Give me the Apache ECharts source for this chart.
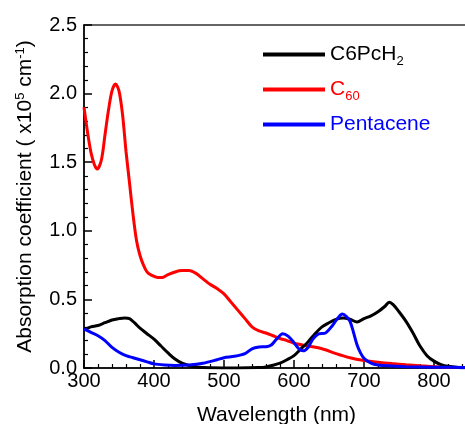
<!DOCTYPE html>
<html>
<head>
<meta charset="utf-8">
<script src="https://cdn.jsdelivr.net/npm/echarts@6/dist/echarts.min.js"></script>
<style>
  html, body { margin: 0; padding: 0; background: #fff; }
  #chart { width: 465px; height: 424px; }
</style>
</head>
<body>
<div id="chart"></div>
<script>
// wavelength (nm) / absorption coefficient (x10^5 cm^-1)
const c6pcX = [300, 305, 310, 320, 330, 340, 350, 358, 365, 372, 380, 390, 400, 410, 420, 430, 440, 450, 460, 480, 520, 550, 560, 570, 580, 590, 600, 610, 620, 630, 640, 650, 660, 670, 680, 690, 700, 710, 720, 730, 736, 742, 750, 760, 770, 780, 790, 800, 810, 820, 835, 850]
const c6pcY = [0.28, 0.29, 0.30, 0.31, 0.33, 0.35, 0.36, 0.365, 0.36, 0.33, 0.29, 0.25, 0.21, 0.16, 0.11, 0.065, 0.035, 0.018, 0.008, 0.002, 0.0, 0.003, 0.008, 0.02, 0.035, 0.06, 0.09, 0.14, 0.19, 0.25, 0.30, 0.33, 0.355, 0.365, 0.355, 0.335, 0.36, 0.38, 0.41, 0.45, 0.48, 0.46, 0.41, 0.34, 0.255, 0.16, 0.09, 0.05, 0.025, 0.012, 0.004, 0.001]

const c60X = [300, 305, 310, 315, 319, 325, 330, 335, 340, 345, 350, 355, 360, 365, 370, 375, 380, 385, 390, 395, 405, 412, 420, 430, 440, 450, 460, 470, 480, 490, 500, 510, 520, 530, 540, 550, 560, 570, 580, 590, 600, 620, 640, 660, 680, 700, 720, 740, 760, 780, 800, 820, 850]
const c60Y = [1.90, 1.72, 1.57, 1.48, 1.45, 1.52, 1.70, 1.88, 2.02, 2.07, 2.02, 1.85, 1.58, 1.35, 1.12, 0.93, 0.82, 0.75, 0.70, 0.68, 0.66, 0.66, 0.68, 0.70, 0.71, 0.71, 0.69, 0.65, 0.61, 0.58, 0.54, 0.48, 0.42, 0.36, 0.30, 0.27, 0.255, 0.235, 0.215, 0.20, 0.18, 0.16, 0.14, 0.105, 0.075, 0.055, 0.042, 0.032, 0.024, 0.017, 0.01, 0.006, 0.003]

const pentX = [300, 310, 320, 330, 340, 350, 360, 370, 380, 390, 400, 415, 430, 450, 470, 490, 500, 515, 530, 540, 550, 560, 568, 575, 584, 592, 600, 607, 613, 620, 627, 635, 645, 655, 662, 669, 675, 680, 685, 690, 695, 700, 710, 720, 740, 760, 800, 850]
const pentY = [0.285, 0.26, 0.235, 0.20, 0.15, 0.115, 0.09, 0.075, 0.06, 0.045, 0.03, 0.022, 0.019, 0.022, 0.035, 0.06, 0.075, 0.085, 0.105, 0.14, 0.153, 0.155, 0.17, 0.21, 0.25, 0.23, 0.185, 0.14, 0.125, 0.15, 0.21, 0.248, 0.255, 0.31, 0.36, 0.393, 0.375, 0.34, 0.26, 0.17, 0.11, 0.07, 0.035, 0.022, 0.015, 0.01, 0.006, 0.004]

const xTicks = [300, 400, 500, 600, 700, 800]
const yTicks = [0.0, 0.5, 1.0, 1.5, 2.0, 2.5]

const font = 'Liberation Sans, Arial, sans-serif'
const pairs = (xs, ys) => xs.map((x, i) => [x, ys[i]])

const chart = echarts.init(document.getElementById('chart'))

const axisCommon = {
  axisLine: { show: true, lineStyle: { color: '#000', width: 1.5 } },
  axisTick: { show: true, inside: true, length: 8, lineStyle: { color: '#000', width: 1.5 } },
  minorTick: { show: true, splitNumber: 5, length: 4, lineStyle: { color: '#000', width: 1.2 } },
  splitLine: { show: false },
  nameLocation: 'middle'
}

const option = {
  animation: false,
  backgroundColor: '#fff',
  textStyle: { fontFamily: font },
  grid: {
    left: 84,
    top: 25,
    right: -4,
    bottom: 56,
    outerBoundsMode: 'none',
    containLabel: false,
    show: true,
    borderColor: '#333',
    borderWidth: 1.5
  },
  legend: {
    orient: 'vertical',
    left: 258,
    top: 39,
    itemWidth: 62,
    itemHeight: 4,
    itemGap: 11,
    icon: 'rect',
    textStyle: {
      fontFamily: font,
      fontSize: 21,
      rich: {
        sub: { fontSize: 13, verticalAlign: 'bottom', padding: [14, 0, 0, 0] }
      }
    },
    formatter: function (name) {
      if (name === 'C6PcH2') return 'C6PcH{sub|2}'
      if (name === 'C60') return 'C{sub|60}'
      return name
    },
    data: [
      { name: 'C6PcH2', textStyle: { color: '#000', rich: { sub: { color: '#000' } } } },
      { name: 'C60', textStyle: { color: '#ff0000', rich: { sub: { color: '#ff0000' } } } },
      { name: 'Pentacene', textStyle: { color: '#0000ff' } }
    ]
  },
  xAxis: Object.assign({}, axisCommon, {
    type: 'value',
    min: 300,
    max: 850,
    interval: 100,
    name: 'Wavelength (nm)',
    nameGap: 37,
    nameTextStyle: { fontFamily: font, fontSize: 21, color: '#000' },
    axisLabel: {
      color: '#000',
      fontFamily: font,
      fontSize: 20,
      margin: 3,
      showMaxLabel: false,
      formatter: v => (xTicks.indexOf(v) >= 0 ? String(v) : '')
    }
  }),
  yAxis: Object.assign({}, axisCommon, {
    type: 'value',
    min: 0,
    max: 2.5,
    interval: 0.5,
    name: 'Absorption coefficient ( x10{sup|5} cm{sup|-1})',
    nameGap: 47,
    nameRotate: 90,
    nameTextStyle: {
      fontFamily: font,
      fontSize: 21,
      color: '#000',
      rich: {
        sup: { fontSize: 13, verticalAlign: 'top', padding: [0, 0, 10, 0], color: '#000' }
      }
    },
    axisLabel: {
      color: '#000',
      fontFamily: font,
      fontSize: 20,
      margin: 7,
      formatter: v => (yTicks.indexOf(v) >= 0 ? v.toFixed(1) : '')
    }
  }),
  series: [
    {
      name: 'C6PcH2',
      type: 'line',
      data: pairs(c6pcX, c6pcY),
      smooth: 0.3,
      symbol: 'none',
      lineStyle: { color: '#000', width: 3 },
      itemStyle: { color: '#000' },
      z: 3
    },
    {
      name: 'C60',
      type: 'line',
      data: pairs(c60X, c60Y),
      smooth: 0.3,
      symbol: 'none',
      lineStyle: { color: '#ff0000', width: 3 },
      itemStyle: { color: '#ff0000' },
      z: 2
    },
    {
      name: 'Pentacene',
      type: 'line',
      data: pairs(pentX, pentY),
      smooth: 0.3,
      symbol: 'none',
      lineStyle: { color: '#0000ff', width: 3 },
      itemStyle: { color: '#0000ff' },
      z: 4
    }
  ]
}

chart.setOption(option)
</script>
</body>
</html>
